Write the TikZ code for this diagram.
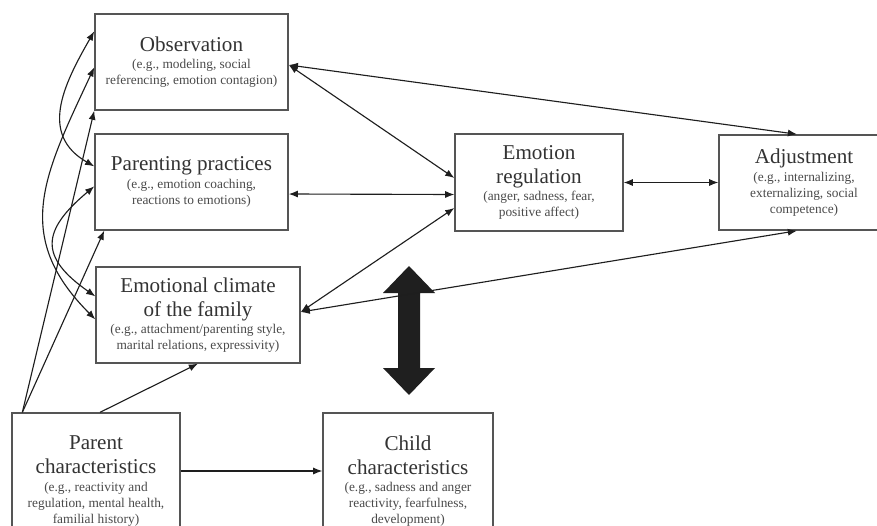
\documentclass[tikz,border=0pt]{standalone}
\usepackage{fontspec}
\setmainfont{Liberation Serif}
\usepackage{xcolor}
\usetikzlibrary{arrows.meta,calc,positioning}
\definecolor{cadre}{HTML}{555555}
\definecolor{trait}{HTML}{1E1E1E}
\definecolor{texte}{HTML}{333333}
\definecolor{soustexte}{HTML}{4A4A4A}
\newcommand{\grostexte}{\fontsize{15}{17}\selectfont\color{texte}}
\newcommand{\petittexte}{\fontsize{9.5}{11.4}\selectfont\color{soustexte}}
\tikzstyle{bloc}=[draw=cadre, line width=0.9pt, align=center, inner sep=0pt, fill=white, font=\petittexte]
\tikzstyle{lien}=[line width=0.8pt, draw=trait, {Latex[length=6.5pt,width=5pt]}-{Latex[length=6.5pt,width=5pt]}]
\tikzstyle{fleche}=[line width=0.8pt, draw=trait, -{Latex[length=6.5pt,width=5pt]}]
\begin{document}
\begin{tikzpicture}[x=0.025cm,y=-0.025cm]

\clip (0,0) rectangle (877,526);
\fill[white] (0,0) rectangle (877,526);

% blocs
\node[bloc, minimum width=4.83cm, minimum height=2.4cm] (obs) at (191.5,62)
    {\grostexte Observation\\[1pt] (e.g., modeling, social\\ referencing, emotion contagion)};
\node[bloc, minimum width=4.83cm, minimum height=2.4cm] (prac) at (191.5,182)
    {\grostexte Parenting practices\\[1pt] (e.g., emotion coaching,\\ reactions to emotions)};
\node[bloc, minimum width=5.1cm, minimum height=2.4cm] (climate) at (198,315)
    {\grostexte Emotional climate\\[5.5pt] \grostexte of the family\\[1pt] (e.g., attachment/parenting style,\\ marital relations, expressivity)};
\node[bloc, minimum width=4.2cm, minimum height=3.4cm] (parent) at (96,481)
    {\grostexte Parent\\[5.5pt] \grostexte characteristics\\[1pt] (e.g., reactivity and\\ regulation, mental health,\\ familial history)};
\node[bloc, minimum width=4.25cm, minimum height=3.4cm] (child) at (408,481)
    {\grostexte Child\\[5.5pt] \grostexte characteristics\\[1pt] (e.g., sadness and anger\\ reactivity, fearfulness,\\ development)};
\node[bloc, minimum width=4.2cm, minimum height=2.42cm] (emoreg) at (539,182.5)
    {\grostexte Emotion\\[5.5pt] \grostexte regulation\\[1pt] (anger, sadness, fear,\\ positive affect)};
\node[bloc, minimum width=4.25cm, minimum height=2.38cm] (adjust) at (804,182.5)
    {\grostexte Adjustment\\[1pt] (e.g., internalizing,\\ externalizing, social\\ competence)};

% grosse fleche
\fill[black!88] (409,266) -- (435,293) -- (420,293) -- (420,368) -- (435,368) -- (409,395)
    -- (383,368) -- (398,368) -- (398,293) -- (383,293) -- cycle;

% liens vers la droite
\coordinate (obsR) at ($(obs.east)+(0,3)$);
\draw[lien] (obsR) -- ($(adjust.north)+(-7,0)$);
\draw[lien] (obsR) -- ($(emoreg.west)+(0,-4.5)$);
\draw[lien] ($(prac.east)+(0,12)$) -- ($(emoreg.west)+(0,12)$);
\draw[lien] ($(climate.east)+(0,-3)$) -- ($(emoreg.west)+(0,25.5)$);
\draw[lien] ($(climate.east)+(0,-3)$) -- ($(adjust.south)+(-7,0)$);
\draw[lien] (emoreg.east) -- (adjust.west);

% parent
\coordinate (pcoin) at ($(parent.north west)+(11,0)$);
\draw[fleche] (pcoin) -- (obs.south west);
\draw[fleche] (pcoin) -- ($(prac.south west)+(10,0)$);
\draw[fleche] ($(parent.north)+(4,0)$) -- (climate.south);
\draw[fleche] ($(parent.east)+(0,-10)$) -- ($(child.west)+(0,-10)$);

% courbes a gauche
\draw[lien] ($(obs.north west)+(0,18)$) to[out=240,in=150,looseness=1.2] ($(prac.north west)+(0,33)$);
\draw[lien] ($(obs.north west)+(0,54)$) to[out=245,in=135,looseness=1.2] ($(climate.north west)+(0,53)$);
\draw[lien] ($(prac.north west)+(0,53)$) to[out=220,in=145,looseness=1.6] ($(climate.north west)+(0,30)$);

\end{tikzpicture}
\end{document}
